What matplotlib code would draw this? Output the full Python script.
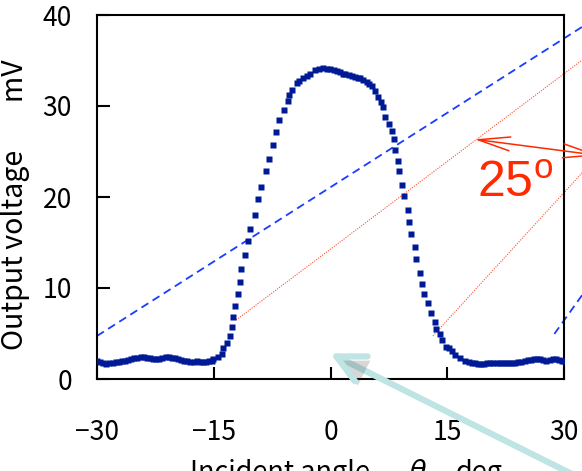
import matplotlib
matplotlib.use("Agg")
import matplotlib.pyplot as plt
import matplotlib.patheffects as pe

plt.rcParams['font.family'] = ['Noto Sans CJK JP', 'DejaVu Sans']
plt.rcParams['mathtext.fontset'] = 'custom'
plt.rcParams['mathtext.rm'] = 'Liberation Sans'

# ---- measured data: incident angle (deg) vs output voltage (mV) ----
angle_deg = [
    -30.0, -29.6, -29.2, -28.8, -28.4, -28.0, -27.6, -27.2, -26.8, -26.4,
    -26.0, -25.6, -25.2, -24.8, -24.4, -24.0, -23.6, -23.2, -22.8, -22.4,
    -22.0, -21.6, -21.2, -20.8, -20.4, -20.0, -19.6, -19.2, -18.8, -18.4,
    -18.0, -17.6, -17.2, -16.8, -16.4, -16.0, -15.6, -15.2,
    -15.06, -14.49, -13.94, -13.77, -13.26, -12.87, -12.66, -12.49, -12.23, -11.85,
    -11.63, -11.46, -10.95, -10.56, -10.30, -9.66, -9.28, -8.89, -8.25, -7.86,
    -7.35, -6.96, -6.58, -5.94, -5.46, -5.29, -4.91, -4.37, -4.01, -3.49,
    -3.06, -2.63, -1.99, -1.48, -0.93, -0.45, -0.06, 0.39, 0.80, 1.22,
    1.61, 1.86, 2.31, 2.72, 3.15, 3.53, 3.79, 4.18, 4.65, 4.95,
    5.29, 5.72, 6.14, 6.49, 6.78, 7.04, 7.43, 7.86, 8.07, 8.20,
    8.71, 8.84, 9.10, 9.48, 9.96, 10.12, 10.38, 10.77, 11.02, 11.41,
    11.67, 12.05, 12.49, 12.91, 13.34, 13.59, 13.98, 14.36, 14.80, 15.26,
    15.57, 16.0, 16.64, 17.28,
    17.7, 18.1, 18.5, 18.9, 19.3, 19.7, 20.1, 20.5, 20.9, 21.3,
    21.7, 22.1, 22.5, 22.9, 23.3, 23.7, 24.1, 24.5, 24.9, 25.3,
    25.7, 26.1, 26.5, 26.9, 27.3, 27.7, 28.1, 28.5, 28.9, 29.3,
    29.7, 30.0,
]
voltage_mV = [
    2.0, 1.9, 1.75, 1.7, 1.75, 1.8, 1.85, 1.9, 1.95, 2.0,
    2.1, 2.2, 2.3, 2.35, 2.4, 2.4, 2.35, 2.3, 2.2, 2.15,
    2.2, 2.3, 2.4, 2.4, 2.35, 2.3, 2.2, 2.1, 2.0, 1.95,
    1.9, 1.9, 1.95, 1.9, 1.9, 1.9, 1.95, 2.0,
    2.16, 2.45, 2.78, 3.41, 3.99, 4.76, 5.71, 6.81, 8.02, 9.34,
    10.69, 12.12, 13.66, 15.2, 16.52, 18.05, 19.81, 21.13, 22.89, 24.18,
    25.71, 27.14, 28.46, 29.59, 30.58, 31.18, 31.79, 32.53, 32.71, 33.11,
    33.30, 33.52, 33.92, 34.07, 34.14, 34.12, 34.03, 33.96, 33.88, 33.74,
    33.57, 33.48, 33.41, 33.33, 33.19, 33.08, 33.04, 32.86, 32.67, 32.42,
    32.2, 31.65, 31.02, 30.47, 29.84, 28.82, 28.02, 27.25, 26.34, 25.16,
    23.96, 22.89, 21.35, 20.11, 18.57, 17.29, 15.97, 14.54, 13.19, 11.68,
    10.47, 9.34, 8.38, 7.29, 6.30, 5.53, 4.98, 4.25, 3.55, 3.37,
    3.08, 2.64, 2.27, 2.01,
    1.9, 1.8, 1.75, 1.7, 1.65, 1.7, 1.75, 1.8, 1.8, 1.8,
    1.8, 1.8, 1.8, 1.8, 1.8, 1.8, 1.85, 1.9, 2.0, 2.05,
    2.1, 2.2, 2.2, 2.2, 2.1, 2.0, 2.1, 2.25, 2.25, 2.1,
    2.0, 2.0,
]

x_ticks = [-30, -15, 0, 15, 30]
x_tick_labels = ['\u221230', '\u221215', '0', '15', '30']
y_ticks = [0, 10, 20, 30, 40]
y_tick_labels = ['0', '10', '20', '30', '40']

# guide lines drawn over the chart (data coordinates)
blue_line1_x = [-30.0, 32.3]
blue_line1_y = [4.73, 38.7]
blue_line2_x = [28.72, 32.3]
blue_line2_y = [4.95, 9.23]
red_line1_x = [-12.14, 32.3]
red_line1_y = [6.48, 35.05]
red_line2_x = [13.13, 32.3]
red_line2_y = [4.73, 22.67]
angle_arrow_x = [18.48, 34.4]
angle_arrow_y = [26.34, 24.57]
angle_text = r'25$^{\mathrm{o}}$'
pointer_tip = (-0.06, 2.82)
pointer_tail = (37.2, -13.1)

W, H = 582, 471
fig = plt.figure(figsize=(W / 100, H / 100), dpi=100)
ax = fig.add_axes([97 / W, 1 - 379 / H, (564.3 - 97) / W, (379 - 15) / H])

ax.plot(angle_deg, voltage_mV, linestyle='none', marker='s', ms=3.8,
        color='#001a96', mec='none', zorder=3)

ax.set_xlim(-30, 30)
ax.set_ylim(0, 40)
ax.set_xticks(x_ticks)
ax.set_xticklabels(x_tick_labels)
ax.set_yticks(y_ticks)
ax.set_yticklabels(y_tick_labels)
ax.tick_params(axis='both', direction='in', length=9, width=1.5,
               labelsize=19, colors='black')
ax.tick_params(axis='x', pad=29)
ax.tick_params(axis='y', pad=18)
for s in ax.spines.values():
    s.set_linewidth(1.5)

# guide lines
ax.plot(blue_line1_x, blue_line1_y, color='#1a3cff', lw=1.3,
        dashes=(4.5, 2.8), clip_on=False, zorder=2)
ax.plot(blue_line2_x, blue_line2_y, color='#1a3cff', lw=1.3,
        dashes=(4.5, 2.8), clip_on=False, zorder=2)
ax.plot(red_line1_x, red_line1_y, color='#ff5030', lw=0.8,
        linestyle=(0, (1, 1.2)), clip_on=False, zorder=2)
ax.plot(red_line2_x, red_line2_y, color='#ff5030', lw=0.8,
        linestyle=(0, (1, 1.2)), clip_on=False, zorder=2)

ax.annotate('', xy=(angle_arrow_x[0], angle_arrow_y[0]),
            xytext=(angle_arrow_x[1], angle_arrow_y[1]),
            arrowprops=dict(arrowstyle='<->,head_length=1.15,head_width=0.25',
                            color='#ff2a00', lw=1.1, mutation_scale=20,
                            shrinkA=0, shrinkB=0),
            annotation_clip=False)
ax.text(18.78, 20.0, angle_text, color='#ff2a00', fontsize=36,
        family='Liberation Sans', ha='left', va='baseline', clip_on=False)

ax.annotate('', xy=pointer_tip, xytext=pointer_tail,
            arrowprops=dict(arrowstyle='->,head_length=1.0,head_width=0.5',
                            color='#bfe4e4', lw=4.5, mutation_scale=20,
                            shrinkA=0, shrinkB=0,
                            path_effects=[pe.SimplePatchShadow(offset=(2, -3), alpha=0.22),
                                          pe.Normal()]),
            annotation_clip=False, zorder=5)

# axis labels
fig.text(15 / W, 1 - 205 / H, 'Output voltage\u3000   mV', rotation=90,
         fontsize=20.5, ha='center', va='center')
fig.text(190 / W, 1 - 459 / H, 'Incident angle', fontsize=19.5,
         ha='left', va='top')
fig.text(418 / W, 1 - 459 / H, '\u03b8', fontsize=19.5, style='italic',
         family='DejaVu Sans', ha='center', va='top')
fig.text(456 / W, 1 - 459 / H, 'deg', fontsize=19.5, ha='left', va='top')

fig.savefig('out.png', dpi=100)
